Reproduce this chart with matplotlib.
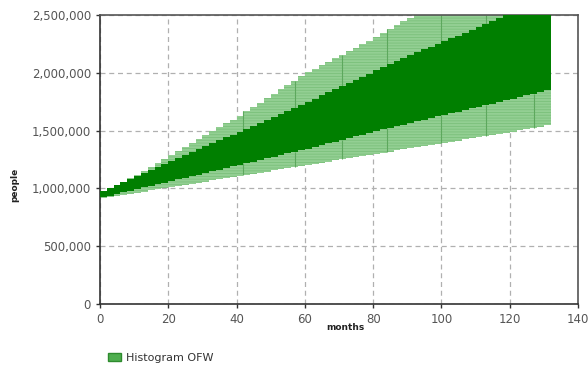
import numpy as np
import matplotlib
matplotlib.use('Agg')
import matplotlib.pyplot as plt
import matplotlib.ticker as mtick
from matplotlib.patches import Patch

plt.rcParams['font.family'] = ['DejaVu Sans']

# histogram bins (months), 2 months wide
bin_edges = list(range(0, 134, 2))

# outer band (light) - upper / lower, thousands of people
light_upper = [950, 984, 1018, 1052, 1086, 1120, 1154, 1188, 1222, 1256,
               1290, 1324, 1358, 1392, 1426, 1460, 1494, 1528, 1562, 1596,
               1630, 1666, 1704, 1742, 1780, 1818, 1856, 1894, 1930, 1968,
               2005, 2036, 2066, 2096, 2126, 2156, 2186, 2216, 2246, 2276,
               2308, 2342, 2376, 2410, 2444, 2476, 2510, 2540, 2574, 2606,
               2640, 2672, 2704, 2736, 2768, 2800, 2832, 2864, 2896, 2928,
               2960, 2992, 3024, 3056, 3088, 3120]
light_lower = [915, 925, 934, 944, 954, 963, 973, 982, 992, 1002,
               1011, 1021, 1030, 1040, 1050, 1059, 1069, 1078, 1088, 1098,
               1107, 1117, 1126, 1136, 1146, 1155, 1165, 1174, 1184, 1194,
               1203, 1213, 1222, 1232, 1242, 1251, 1261, 1270, 1280, 1290,
               1299, 1309, 1318, 1328, 1338, 1347, 1357, 1366, 1376, 1386,
               1395, 1405, 1414, 1424, 1434, 1443, 1453, 1462, 1472, 1482,
               1491, 1501, 1510, 1520, 1530, 1548]
# inner band (dark)
dark_upper = [975, 1000, 1026, 1052, 1078, 1104, 1130, 1156, 1182, 1208,
              1234, 1260, 1286, 1312, 1338, 1364, 1390, 1416, 1442, 1466,
              1490, 1516, 1542, 1568, 1594, 1620, 1646, 1672, 1698, 1724,
              1750, 1777, 1804, 1831, 1858, 1885, 1912, 1939, 1966, 1993,
              2020, 2048, 2075, 2102, 2130, 2154, 2178, 2202, 2226, 2250,
              2274, 2298, 2322, 2346, 2370, 2394, 2420, 2446, 2472, 2500,
              2526, 2552, 2578, 2604, 2630, 2656]
dark_lower = [925, 938, 952, 966, 980, 994, 1008, 1022, 1036, 1050,
              1064, 1078, 1092, 1106, 1120, 1134, 1148, 1162, 1176, 1190,
              1204, 1218, 1232, 1246, 1260, 1274, 1288, 1302, 1316, 1330,
              1345, 1360, 1375, 1390, 1405, 1420, 1435, 1450, 1465, 1480,
              1495, 1510, 1524, 1538, 1552, 1566, 1580, 1594, 1608, 1622,
              1636, 1650, 1664, 1678, 1692, 1706, 1720, 1734, 1748, 1762,
              1776, 1790, 1804, 1818, 1832, 1850]
# faint vertical lines seen inside the light band
marker_months = [42, 57, 71, 84, 100, 113, 127]

edges = np.array(bin_edges)
lu = np.array(light_upper) * 1000
ll = np.array(light_lower) * 1000
du = np.array(dark_upper) * 1000
dl = np.array(dark_lower) * 1000

light = '#93cf93'
stripe = '#7bc07b'
dark = '#007f00'

fig = plt.figure(figsize=(5.88, 3.70), dpi=100)
ax = fig.add_axes([100/588, 1-304/370, 478/588, 289/370])

plt.rcParams['hatch.linewidth'] = 0.6
ax.stairs(lu, edges, baseline=ll, fill=True, facecolor=light, edgecolor=stripe,
          linewidth=0, hatch='------', zorder=2)
ax.stairs(du, edges, baseline=dl, fill=True, color=dark, linewidth=0, zorder=3)

# vertical lines in light band
for m in marker_months:
    i = m // 2
    ax.vlines(m, ll[i], dl[i], color='#5da85d', lw=0.8, zorder=2.5)
    ax.vlines(m, du[i], min(lu[i], 2500000), color='#5da85d', lw=0.8, zorder=2.5)

ax.set_xlim(0, 140)
ax.set_ylim(0, 2500000)
ax.set_xticks(range(0, 141, 20))
ax.set_yticks(range(0, 2500001, 500000))
ax.yaxis.set_major_formatter(mtick.StrMethodFormatter('{x:,.0f}'))
ax.grid(True, color='#b0b0b0', linestyle=(0, (4, 3)), linewidth=0.9, zorder=1)
ax.set_axisbelow(True)
ax.tick_params(labelsize=8.5, labelcolor='#555555', color='#333333', length=3, width=1)
for s in ['left', 'bottom']:
    ax.spines[s].set_color('#333333')
    ax.spines[s].set_linewidth(1.2)
for s in ['top', 'right']:
    ax.spines[s].set_color('#555555')
    ax.spines[s].set_linewidth(1.2)

fig.text(345/588, 1-328/370, 'months', fontsize=6.5, fontweight='bold',
         ha='center', va='center', color='#222222')
fig.text(15/588, 1-185/370, 'people', fontsize=6.5, fontweight='bold',
         ha='center', va='center', rotation=90, color='#222222')

fig.legend(handles=[Patch(facecolor='#4fae4f', edgecolor='#2e8b2e', label='Histogram OFW')],
           loc='center left', bbox_to_anchor=(98/588, 1-358/370), frameon=False,
           fontsize=8, handlelength=1.2, handleheight=0.8, handletextpad=0.4,
           labelcolor='#333333')

fig.savefig('out.png', dpi=100)
